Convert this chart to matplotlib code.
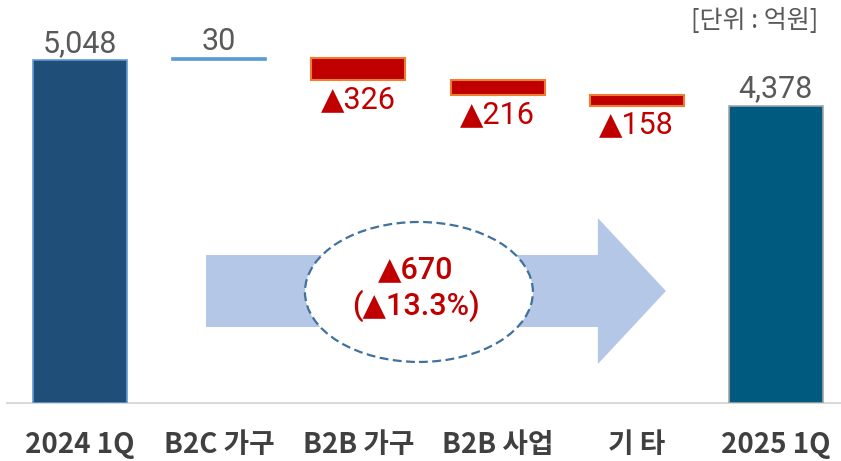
import matplotlib
matplotlib.use("Agg")
import matplotlib.pyplot as plt
from matplotlib.patches import Polygon, Ellipse

# ---- data ----
categories = ["2024 1Q", "B2C 가구", "B2B 가구", "B2B 사업", "기 타", "2025 1Q"]
start_value = 5048
changes = [30, -326, -216, -158]
end_value = 4378
total_change_text = "▲670"
total_pct_text = "(▲13.3%)"
unit_text = "[단위 : 억원]"

NUM_FONT = ["Roboto", "DejaVu Sans"]
KR_FONT = ["Noto Sans CJK KR", "DejaVu Sans"]
GRAY = "#595959"
RED = "#C00000"

fig = plt.figure(figsize=(8.41, 4.61), dpi=100)
ax = fig.add_axes([7 / 841, 1 - 403 / 461, 834 / 841, 403 / 461])
ax.set_xlim(-0.525, 5.468)
ax.set_ylim(0, 5931)

w = 0.676
x = list(range(len(categories)))
UP = 118     # gap above bar (data units) to label baseline
DOWN = 412   # gap below bar bottom to label baseline

# start bar
ax.bar(x[0], start_value, width=w, color="#1F4E79", edgecolor="#5B9BD5", linewidth=1.2, zorder=3)
ax.text(x[0], start_value + UP, f"{start_value:,}", ha="center", va="baseline",
        fontsize=22, color=GRAY, family=NUM_FONT)

# change bars
level = start_value
for i, c in enumerate(changes, start=1):
    if c >= 0:
        ax.bar(x[i], c, bottom=level, width=w, color="#5B9BD5", edgecolor="#5B9BD5",
               linewidth=1.2, zorder=3)
        ax.text(x[i], level + c + UP, f"{c:,}", ha="center", va="baseline",
                fontsize=22, color=GRAY, family=NUM_FONT)
    else:
        ax.bar(x[i], -c, bottom=level + c, width=w, color=RED, edgecolor="#ED7D31",
               linewidth=1.5, zorder=3)
        ax.text(x[i], level + c - DOWN, f"▲{-c:,}", ha="center", va="baseline",
                fontsize=22, color=RED, family=NUM_FONT)
    level += c

# end bar
ax.bar(x[-1], end_value, width=w, color="#005A80", edgecolor="#A5A5A5", linewidth=1.2, zorder=3)
ax.text(x[-1], end_value + UP, f"{end_value:,}", ha="center", va="baseline",
        fontsize=22, color=GRAY, family=NUM_FONT)

# big arrow
arrow_pts = [(0.905, 1118), (0.905, 2178), (3.721, 2178), (3.721, 2722),
             (4.210, 1648), (3.721, 574), (3.721, 1118)]
ax.add_patch(Polygon(arrow_pts, closed=True, facecolor="#B4C7E7", edgecolor="none", zorder=1))

# ellipse
ax.add_patch(Ellipse((2.435, 1634), 1.638, 2060, facecolor="white", edgecolor="#41719C",
                     linewidth=1.6, linestyle=(0, (4, 2)), zorder=2))
ax.text(2.41, 1960, total_change_text, ha="center", va="center", fontsize=22,
        color=RED, family=NUM_FONT, fontweight="medium", zorder=4)
ax.text(2.41, 1430, total_pct_text, ha="center", va="center", fontsize=22,
        color=RED, family=NUM_FONT, fontweight="medium", zorder=4)

# axes styling
for s in ["top", "right", "left"]:
    ax.spines[s].set_visible(False)
ax.spines["bottom"].set_color("#D9D9D9")
ax.spines["bottom"].set_linewidth(1.5)
ax.set_yticks([])
ax.set_xticks(x)
ax.set_xticklabels(categories, family=KR_FONT, fontweight="bold", fontsize=20, color="#404040")
ax.tick_params(axis="x", length=0, pad=20)

fig.text(818 / 841, 1 - 21 / 461, unit_text, ha="right", va="center", fontsize=18,
         color=GRAY, family=KR_FONT)

fig.savefig("out.png", dpi=100)
